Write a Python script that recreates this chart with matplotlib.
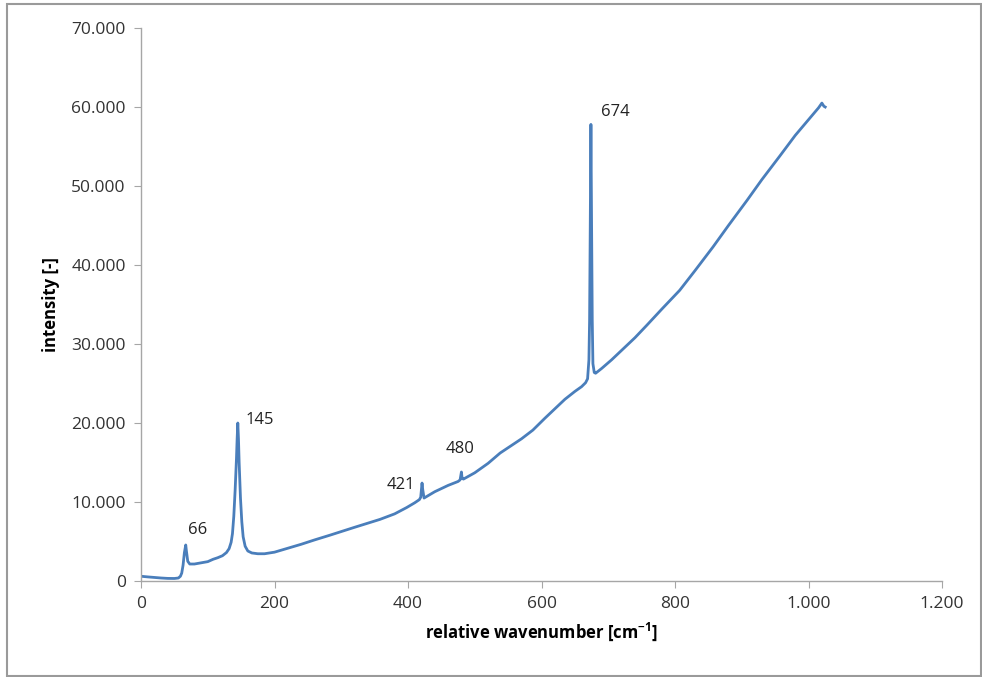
import matplotlib
matplotlib.use("Agg")
import matplotlib.pyplot as plt
from matplotlib.patches import Rectangle
from matplotlib.ticker import FuncFormatter

# spectrum
wavenumber = [0, 10, 20, 30, 40, 50, 56, 59, 61, 63, 65, 67, 68, 70, 73, 80,
              90, 100, 108, 115, 122, 128, 132, 135, 137, 139, 141, 143, 144,
              145, 146, 147, 149, 151, 153, 156, 160, 166, 175, 185, 200, 220,
              240, 260, 283, 320, 358, 380, 398, 410, 417, 419, 420, 421, 422,
              424, 428, 440, 460, 475, 478, 479, 480, 481, 483, 500, 520, 538,
              570, 587, 605, 620, 635, 650, 660, 666, 669, 671, 672, 673, 674,
              675, 676, 677, 679, 681, 690, 705, 720, 740, 758, 780, 807, 830,
              857, 880, 908, 930, 957, 980, 1007, 1015, 1020, 1023, 1025]
intensity = [600, 520, 450, 380, 330, 320, 380, 600, 1000, 2000, 3600, 4560,
             3800, 2500, 2150, 2150, 2300, 2450, 2750, 2950, 3200, 3600, 4100,
             4900, 6000, 8200, 11500, 15500, 18000, 20000, 18000, 15000,
             10500, 7500, 5600, 4400, 3800, 3550, 3450, 3450, 3650, 4150,
             4650, 5200, 5800, 6800, 7800, 8500, 9300, 9900, 10300, 10600,
             11500, 12400, 11600, 10500, 10700, 11300, 12100, 12600, 12800,
             13300, 13800, 13000, 12900, 13700, 14900, 16200, 18000, 19100,
             20600, 21800, 23000, 24000, 24600, 25100, 25600, 28000, 33000,
             45000, 57800, 45000, 33000, 27500, 26400, 26300, 26900, 28000,
             29200, 30800, 32400, 34400, 36800, 39300, 42300, 45000, 48200,
             50800, 53800, 56400, 59100, 59900, 60500, 60100, 60000]

peak_labels = ["66", "145", "421", "480", "674"]
label_x = [85, 156, 410, 457, 689]
label_y = [6450, 20400, 12150, 16700, 59400]
label_ha = ["center", "left", "right", "left", "left"]

plt.rcParams["font.family"] = ["Open Sans", "DejaVu Sans"]
plt.rcParams["axes.unicode_minus"] = False

fig = plt.figure(figsize=(9.82, 6.77), dpi=100)
ax = fig.add_axes([0.1436, 0.1418, 0.8157, 0.8168])

ax.plot(wavenumber, intensity, color="#4a7ebb", linewidth=2.0,
        solid_joinstyle="round")

for t, x, y, ha in zip(peak_labels, label_x, label_y, label_ha):
    ax.text(x, y, t, ha=ha, va="center", fontsize=12, color="#222222")

ax.set_xlim(0, 1200)
ax.set_ylim(0, 70000)
ax.set_xticks(range(0, 1201, 200))
ax.set_yticks(range(0, 70001, 10000))
dots = FuncFormatter(lambda v, p: "{:,.0f}".format(v).replace(",", "."))
ax.xaxis.set_major_formatter(dots)
ax.yaxis.set_major_formatter(dots)

for s in ["top", "right"]:
    ax.spines[s].set_visible(False)
for s in ["left", "bottom"]:
    ax.spines[s].set_color("#a6a6a6")
    ax.spines[s].set_linewidth(1.0)
ax.tick_params(direction="out", length=5, color="#a6a6a6", labelsize=12.5,
               labelcolor="#333333", pad=6)

ax.set_xlabel("relative wavenumber [cm$^{\\mathregular{-1}}$]",
              fontweight="bold", fontsize=12, labelpad=6)
ax.set_ylabel("intensity [-]", fontweight="bold", fontsize=12, labelpad=8)

fig.patches.append(Rectangle((7 / 982, 1 / 677), 974 / 982, 672 / 677,
                             transform=fig.transFigure, fill=False,
                             edgecolor="#9a9a9a", linewidth=1.5))

fig.savefig("out.png", dpi=100)
